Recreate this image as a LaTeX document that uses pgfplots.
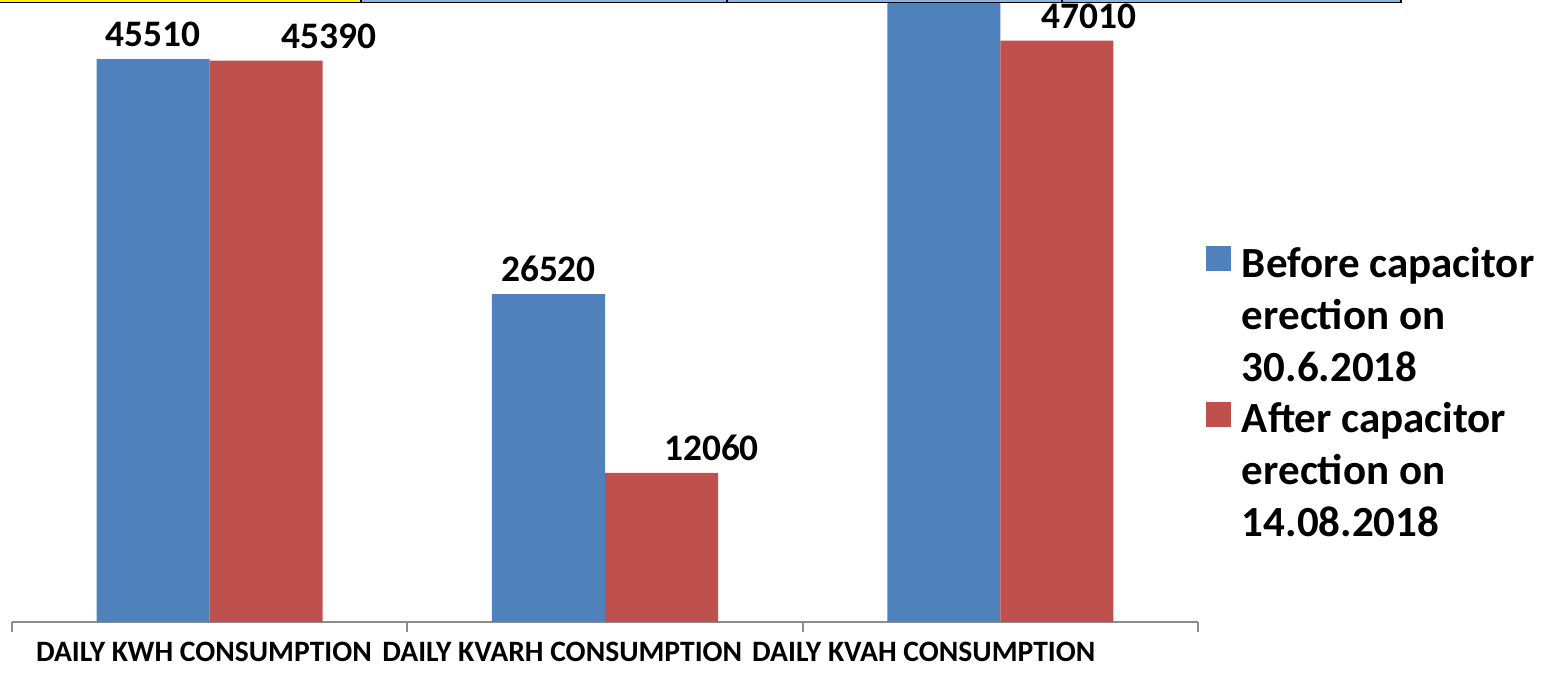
\documentclass[border=0pt]{standalone}
\usepackage{pgfplots}
\pgfplotsset{compat=1.18}
\usepackage{pgfplotstable}
\usepackage{fontspec}
\setmainfont{Carlito}

\definecolor{barblue}{HTML}{4F81BD}
\definecolor{barred}{HTML}{C0504D}
\definecolor{stripblue}{HTML}{8DB4E2}
\definecolor{axisgray}{HTML}{8C8C8C}

% before capacitor erection (third bar runs off the top of the picture)
\pgfplotstableread{
x y
0 45510
1 26520
2 52670
}\before
% after capacitor erection, dx = label shift to the right
\pgfplotstableread{
x y dx
0 45390 31.5
1 12060 25
2 47010 16
}\after

\begin{document}
\begin{tikzpicture}
\begin{axis}[
    name=ax,
    scale only axis, width=593pt, height=311pt,
    xmin=-0.5, xmax=2.5, ymin=0, ymax=50300,
    ybar=0pt, bar width=0.286,
    axis y line=none, axis x line*=bottom,
    x axis line style={-, draw=axisgray, line width=1pt},
    ytick=\empty,
    xtick={0,1,2},
    xticklabels={{\hspace*{-87pt}DAILY KWH CONSUMPTION},
                 {\hspace*{-111.5pt}DAILY KVARH CONSUMPTION},
                 {\hspace*{-124.25pt}DAILY KVAH CONSUMPTION}},
    minor xtick={-0.5,0.5,1.5,2.5},
    major tick length=0pt, minor tick length=5pt, tick align=outside,
    every tick/.style={draw=axisgray, line width=1pt},
    xticklabel style={anchor=north west, inner xsep=0pt,
        font=\fontsize{14.8}{17}\selectfont\bfseries, yshift=-6.5pt},
    nodes near coords,
    every node near coord/.append style={
        font=\fontsize{18.7}{22}\selectfont\bfseries, text=black, yshift=2.5pt},
    /pgf/number format/1000 sep={},
    /pgf/number format/assume math mode=true,
    legend style={at={(1.0067,0.6125)}, anchor=north west,
        draw=none, fill=none, inner sep=0pt, outer sep=0pt,
        row sep=58pt, column sep=5.5pt,
        font=\fontsize{21.5}{26}\selectfont\bfseries,
        nodes={inner sep=0pt}, cells={anchor=base west}},
    legend image code/.code={\fill[#1, draw=none] (0pt,3pt) rectangle (12.5pt,15.5pt);},
]
\addplot[fill=barblue, draw=none] table[x=x, y=y] {\before};
\addlegendentry{\begin{tabular}[t]{@{}l@{}}Before capacitor\\erection on\\30.6.2018\end{tabular}}
\addplot[fill=barred, draw=none,
    visualization depends on={\thisrow{dx} \as \dx},
    every node near coord/.append style={xshift=\dx pt}]
    table[x=x, y=y] {\after};
\addlegendentry{\begin{tabular}[t]{@{}l@{}}After capacitor\\erection on\\14.08.2018\end{tabular}}
\end{axis}

% strip of the table above the chart
\fill[yellow] ([xshift=-6pt]ax.north west) rectangle ([xshift=174.5pt,yshift=-0.85pt]ax.north west);
\fill[stripblue] ([xshift=174.5pt]ax.north west) rectangle ([xshift=694.5pt,yshift=-0.85pt]ax.north west);
\draw[black, line width=0.8pt] ([xshift=-6pt,yshift=-1.25pt]ax.north west) -- ([xshift=694.5pt,yshift=-1.25pt]ax.north west);
\foreach \d in {174.5,357.5,525,694.5}
    \draw[black, line width=0.6pt] ([xshift=\d pt]ax.north west) -- ([xshift=\d pt,yshift=-1.6pt]ax.north west);

\pgfresetboundingbox
\path[use as bounding box] ([xshift=-6pt,yshift=-27.5pt]ax.south west) rectangle ([xshift=770pt]ax.north west);
\end{tikzpicture}
\end{document}
